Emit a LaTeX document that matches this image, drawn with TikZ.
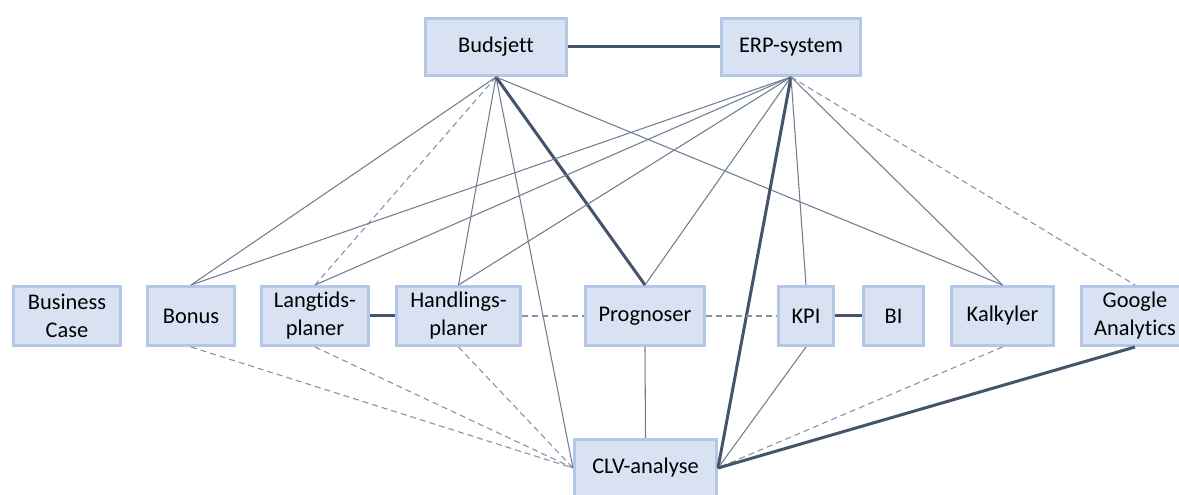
\documentclass[tikz,border=0pt]{standalone}
\usepackage{fontspec}
\setmainfont{Carlito}[Ligatures=CommonOff]
\usetikzlibrary{shadows}
\definecolor{boxfill}{HTML}{D9E2F3}
\definecolor{boxedge}{HTML}{B4C7E7}
\definecolor{linkdark}{HTML}{44546A}
\definecolor{linkthin}{HTML}{717E94}
\definecolor{linkdash}{HTML}{8791A3}
\tikzset{
  box/.style={draw=boxedge, fill=boxfill, line width=2.25pt, inner sep=0pt,
    align=center, text=black, font=\fontsize{16.8}{21}\selectfont,
    drop shadow={opacity=0.18, shadow xshift=1pt, shadow yshift=-1pt}},
  tall/.style={minimum height=44.25pt},
  flat/.style={minimum height=42.75pt},
  strong/.style={draw=linkdark, line width=2.25pt},
  weak/.style={draw=linkthin, line width=0.8pt},
  loose/.style={draw=linkdash, line width=0.8pt, dash pattern=on 4.5pt off 3pt},
}
\begin{document}
\begin{tikzpicture}[x=0.75pt, y=-0.75pt]
\useasboundingbox[fill=white] (0,0) rectangle (1179,495);

% top row
\node[box, flat, minimum width=105.75pt] (bud) at (496,47) {Budsjett};
\node[box, flat, minimum width=104.25pt] (erp) at (791,47) {ERP-system};

% middle row
\node[box, tall, minimum width=80.25pt] (bc)  at (67,316)    {Business\\Case};
\node[box, tall, minimum width=65.25pt] (bon) at (191,316)   {Bonus};
\node[box, tall, minimum width=80.25pt] (lan) at (315,316)   {Langtids-\\planer};
\node[box, tall, minimum width=93pt]    (han) at (458.5,316) {Handlings-\\planer};
\node[box, tall, minimum width=89.25pt] (pro) at (645,316)   {Prognoser};
\node[box, tall, minimum width=41.25pt] (kpi) at (806,316)   {KPI};
\node[box, tall, minimum width=45pt]    (bi)  at (893.5,316) {BI};
\node[box, tall, minimum width=76.5pt]  (kal) at (1002.5,316){Kalkyler};
\node[box, tall, minimum width=80.25pt] (ga)  at (1135,316)  {Google\\Analytics};

% bottom
\node[box, flat, minimum width=106.5pt] (clv) at (645.5,468) {CLV-analyse};

% links from Budsjett
\draw[strong] (bud.east) -- (erp.west);
\draw[weak]   (bud.south) -- (bon.north);
\draw[loose]  (bud.south) -- (lan.north);
\draw[weak]   (bud.south) -- (han.north);
\draw[weak]   (bud.south) -- (clv.west);
\draw[strong] (bud.south) -- (pro.north);
\draw[weak]   (bud.south) -- (kal.north);

% links from ERP-system
\draw[weak]   (erp.south) -- (bon.north);
\draw[weak]   (erp.south) -- (lan.north);
\draw[weak]   (erp.south) -- (han.north);
\draw[weak]   (erp.south) -- (pro.north);
\draw[strong] (erp.south) -- (clv.east);
\draw[weak]   (erp.south) -- (kpi.north);
\draw[weak]   (erp.south) -- (kal.north);
\draw[loose]  (erp.south) -- (ga.north);

% links along the middle row
\draw[strong] (lan.east) -- (han.west);
\draw[loose]  (han.east) -- (pro.west);
\draw[loose]  (pro.east) -- (kpi.west);
\draw[strong] (kpi.east) -- (bi.west);

% links into CLV-analyse
\draw[weak]   (pro.south) -- (clv.north);
\draw[loose]  (bon.south) -- (clv.west);
\draw[loose]  (lan.south) -- (clv.west);
\draw[loose]  (han.south) -- (clv.west);
\draw[weak]   (kpi.south) -- (clv.east);
\draw[loose]  (kal.south) -- (clv.east);
\draw[strong] (ga.south)  -- (clv.east);
\end{tikzpicture}
\end{document}
